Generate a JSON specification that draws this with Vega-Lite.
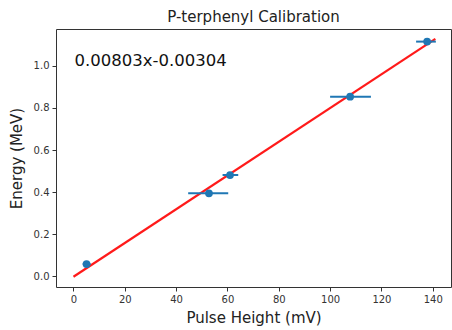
{
  "$schema": "https://vega.github.io/schema/vega-lite/v6.json",
  "autosize": "none",
  "width": 395,
  "height": 258,
  "padding": {"left": 56, "top": 29, "right": 1, "bottom": 43},
  "config": {
    "font": "DejaVu Sans",
    "view": {"stroke": "#333", "strokeWidth": 1},
    "axis": {
      "grid": false,
      "domain": false,
      "tickColor": "#333",
      "tickSize": 4,
      "labelColor": "#333",
      "labelFontSize": 10,
      "labelFont": "DejaVu Sans",
      "titleFont": "DejaVu Sans",
      "titleFontWeight": "normal",
      "titleFontSize": 15,
      "titleColor": "#222",
      "labelPadding": 3
    },
    "title": {"font": "DejaVu Sans", "fontSize": 15, "fontWeight": "normal", "color": "#222", "offset": 4}
  },
  "title": "P-terphenyl Calibration",
  "datasets": {
    "pts": [
      {"x": 5.1, "y": 0.057, "xlo": 3.6, "xhi": 6.7},
      {"x": 52.8, "y": 0.394, "xlo": 44.7, "xhi": 60.3},
      {"x": 61.0, "y": 0.481, "xlo": 58.1, "xhi": 64.2},
      {"x": 107.8, "y": 0.854, "xlo": 100.0, "xhi": 115.9},
      {"x": 137.8, "y": 1.116, "xlo": 133.5, "xhi": 141.2}
    ],
    "fit": [
      {"x": 0, "y": -0.00304},
      {"x": 141, "y": 1.12919}
    ],
    "lbl": [
      {"x": 0, "y": 1.0, "t": "0.00803x-0.00304"}
    ]
  },
  "layer": [
    {
      "data": {"name": "fit"},
      "mark": {"type": "line", "color": "#ff1a1a", "strokeWidth": 2.2},
      "encoding": {
        "x": {"field": "x", "type": "quantitative", "scale": {"domain": [-6.8, 147.1], "nice": false, "zero": false},
              "axis": {"values": [0, 20, 40, 60, 80, 100, 120, 140], "title": "Pulse Height (mV)", "titlePadding": 6}},
        "y": {"field": "y", "type": "quantitative", "scale": {"domain": [-0.052, 1.176], "nice": false, "zero": false},
              "axis": {"values": [0, 0.2, 0.4, 0.6, 0.8, 1.0], "format": ".1f", "title": "Energy (MeV)", "titlePadding": 9}}
      }
    },
    {
      "data": {"name": "pts"},
      "mark": {"type": "rule", "color": "#1f77b4", "strokeWidth": 2},
      "encoding": {
        "x": {"field": "xlo", "type": "quantitative"},
        "x2": {"field": "xhi"},
        "y": {"field": "y", "type": "quantitative"}
      }
    },
    {
      "data": {"name": "pts"},
      "mark": {"type": "circle", "color": "#1f77b4", "size": 60, "opacity": 1},
      "encoding": {
        "x": {"field": "x", "type": "quantitative"},
        "y": {"field": "y", "type": "quantitative"}
      }
    },
    {
      "data": {"name": "lbl"},
      "mark": {"type": "text", "align": "left", "baseline": "alphabetic", "fontSize": 16.5, "color": "#111", "dx": 1},
      "encoding": {
        "x": {"field": "x", "type": "quantitative"},
        "y": {"field": "y", "type": "quantitative"},
        "text": {"field": "t"}
      }
    }
  ]
}
